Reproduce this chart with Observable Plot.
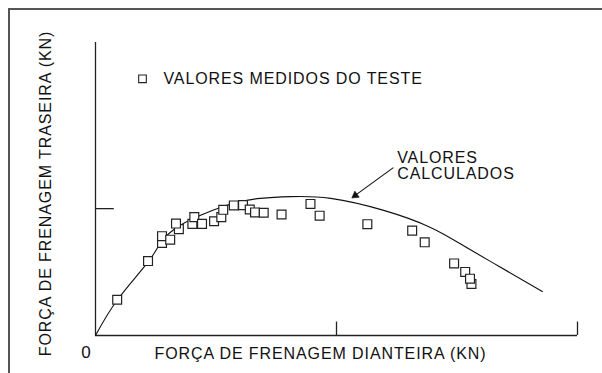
<!DOCTYPE html>
<html>
<head>
<meta charset="utf-8">
<script src="https://cdn.jsdelivr.net/npm/d3@7"></script>
<script src="https://cdn.jsdelivr.net/npm/@observablehq/plot@0.6"></script>
<style>
  html, body { margin: 0; padding: 0; background: #fff; }
  #wrap { position: relative; width: 602px; height: 373px; overflow: hidden; }
  #frame { position: absolute; left: 8px; top: 8px; width: 600px; height: 400px;
           border-top: 2px solid #555; border-left: 2px solid #555; pointer-events: none; }
  svg { display: block; }
  svg text { letter-spacing: 0.9px; }
</style>
</head>
<body>
<div id="wrap"><div id="frame"></div></div>
<script>
// Measured test values (front braking force, rear braking force), arbitrary units 0-100
const measuredX = [4.5, 10.9, 13.8, 13.8, 15.5, 17.3, 16.7, 20.1, 20.5, 22.1, 24.6, 26.1, 26.5, 28.7, 30.6, 32.0, 33.1, 34.9, 38.6, 44.6, 46.5, 56.4, 65.7, 68.3, 74.4, 76.7, 78.0, 77.7];
const measuredY = [12.2, 25.4, 31.6, 33.9, 32.7, 36.3, 38.2, 38.1, 40.4, 38.1, 39.0, 40.4, 42.9, 44.4, 44.5, 43.0, 42.0, 41.9, 41.3, 44.9, 40.9, 38.0, 35.8, 31.8, 24.6, 21.7, 17.6, 19.4];

// Calculated curve
const calcX = [0, 4.6, 11.0, 13.7, 17.2, 21.8, 25.9, 30.1, 34.2, 40.5, 48.8, 59.8, 69.5, 76.3, 83.4, 92.7];
const calcY = [0, 12.3, 25.3, 32.1, 37.2, 41.0, 43.7, 45.7, 46.8, 47.4, 46.8, 42.7, 36.9, 30.7, 23.9, 15.0];

// Axis ticks
const xTicks = [50, 100];
const yTicks = [43.3];
const originLabel = "0";
const xLabel = "FORÇA DE FRENAGEM DIANTEIRA (KN)";
const yLabel = "FORÇA DE FRENAGEM TRASEIRA (KN)";

// Annotations
const legendLabel = ["VALORES MEDIDOS DO TESTE"];
const legendPos = [{x: 9.75, y: 87.6, tx: 14.1}];
const calcLabel = ["VALORES\nCALCULADOS"];
const calcLabelPos = [{x: 62.6, y: 57.8}];
const arrowPos = [{x1: 61.8, y1: 57.3, x2: 53.6, y2: 47.5}];
const arrowHead = [{x: 53.9, y: 47.8, angle: 233.8}];

const measured = measuredX.map((x, i) => ({x, y: measuredY[i]}));
const calc = calcX.map((x, i) => ({x, y: calcY[i]}));

const font = "'Liberation Sans', Arial, Helvetica, sans-serif";

const chart = Plot.plot({
  width: 602,
  height: 373,
  marginLeft: 95,
  marginRight: 25,
  marginTop: 42,
  marginBottom: 38,
  x: {domain: [0, 100], axis: null},
  y: {domain: [0, 100], axis: null},
  style: {fontFamily: font, background: "transparent", overflow: "visible"},
  marks: [
    Plot.ruleX([0], {stroke: "#222", strokeWidth: 1.3}),
    Plot.ruleY([0], {stroke: "#222", strokeWidth: 1.3}),
    Plot.ruleX(xTicks, {x: d => d, y1: 0, y2: 4.6, stroke: "#222", strokeWidth: 1.3}),
    Plot.ruleY(yTicks, {y: d => d, x1: 0, x2: 3.9, stroke: "#222", strokeWidth: 1.3}),
    Plot.text([originLabel], {x: 0, y: 0, text: d => d, dx: -9, dy: 17, fontSize: 17, fill: "#111"}),
    Plot.text([xLabel], {x: 0, y: 0, text: d => d, dx: 225, dy: 18, fontSize: 16, fill: "#111", textAnchor: "middle"}),
    Plot.text([yLabel], {x: 0, y: 0, text: d => d, dx: -50, dy: -142, rotate: -90, fontSize: 16, fill: "#111", textAnchor: "middle"}),
    Plot.line(calc, {x: "x", y: "y", curve: "natural", stroke: "#111", strokeWidth: 1.1}),
    Plot.dot(measured, {x: "x", y: "y", symbol: "square", r: 5, fill: "white", stroke: "#222", strokeWidth: 1.2}),
    Plot.dot(legendPos, {x: "x", y: "y", symbol: "square", r: 4.3, fill: "white", stroke: "#222", strokeWidth: 1.1}),
    Plot.text(legendPos, {x: "tx", y: "y", text: (d, i) => legendLabel[i], textAnchor: "start", fontSize: 16, fill: "#111"}),
    Plot.text(calcLabelPos, {x: "x", y: "y", text: (d, i) => calcLabel[i], textAnchor: "start", lineAnchor: "middle", lineHeight: 1.0, fontSize: 16, fill: "#111"}),
    Plot.link(arrowPos, {x1: "x1", y1: "y1", x2: "x2", y2: "y2", stroke: "#111", strokeWidth: 1.1}),
    Plot.dot(arrowHead, {x: "x", y: "y", symbol: "triangle", r: 2.8, rotate: "angle", fill: "#111", stroke: "#111", strokeWidth: 0.5})
  ]
});
document.getElementById("wrap").insertBefore(chart, document.getElementById("frame"));
</script>
</body>
</html>
